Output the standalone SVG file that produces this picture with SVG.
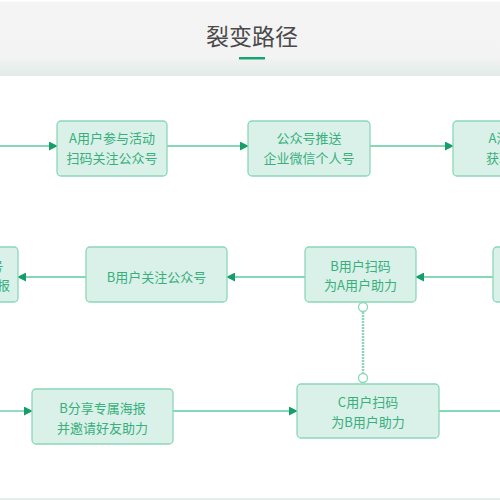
<svg xmlns="http://www.w3.org/2000/svg" width="500" height="500" viewBox="0 0 500 500">
<defs>
<linearGradient id="hdr" x1="0" y1="0" x2="0" y2="1">
<stop offset="0" stop-color="#f4f4f4"/>
<stop offset="0.75" stop-color="#f3f3f3"/>
<stop offset="1" stop-color="#e1ebe7"/>
</linearGradient>
<marker id="arr" viewBox="0 0 10 10" refX="9" refY="5" markerWidth="9" markerHeight="9" markerUnits="userSpaceOnUse" orient="auto">
<path d="M0,0 L10,5 L0,10 z" fill="#169e6a"/>
</marker>
<style>
.box{fill:#d9f1e8;stroke:#8cd7b9;stroke-width:1.3}
.t{font-family:"Noto Sans CJK SC","Liberation Sans",sans-serif;font-size:13px;fill:#3aaf7e;text-anchor:middle}
.ln{stroke:#5ec9a0;stroke-width:1.3;fill:none}
.title{font-family:"Noto Sans CJK SC","Liberation Sans",sans-serif;font-size:23px;fill:#4a4a4a;text-anchor:middle}
</style>
</defs>
<rect x="0" y="0" width="500" height="500" fill="#ffffff"/>
<rect x="0" y="0" width="500" height="76" fill="url(#hdr)"/>
<rect x="0" y="0" width="500" height="1.5" fill="#ffffff"/>
<text class="title" x="252" y="45">裂变路径</text>
<rect x="239" y="57" width="26" height="2.5" fill="#16a56f"/>
<rect x="0" y="498" width="500" height="2" fill="#e4eeea"/>

<g id="connectors">
<line class="ln" x1="0" y1="146" x2="57" y2="146" marker-end="url(#arr)"/>
<line class="ln" x1="167" y1="146" x2="248" y2="146" marker-end="url(#arr)"/>
<line class="ln" x1="370" y1="146" x2="453" y2="146" marker-end="url(#arr)"/>
<line class="ln" x1="493" y1="277" x2="416" y2="277" marker-end="url(#arr)"/>
<line class="ln" x1="305" y1="277" x2="227" y2="277" marker-end="url(#arr)"/>
<line class="ln" x1="86" y1="277" x2="18" y2="277" marker-end="url(#arr)"/>
<line class="ln" x1="0" y1="411" x2="32" y2="411" marker-end="url(#arr)"/>
<line class="ln" x1="173" y1="411" x2="297" y2="411" marker-end="url(#arr)"/>
<line class="ln" x1="439" y1="411" x2="500" y2="411"/>
<line x1="363" y1="312" x2="363" y2="373" stroke="#8cd7b9" stroke-width="2.5" stroke-dasharray="2,1"/>
<circle cx="363" cy="307" r="4.5" fill="#ffffff" stroke="#8cd7b9" stroke-width="1.3"/>
<circle cx="363" cy="378" r="4.5" fill="#ffffff" stroke="#8cd7b9" stroke-width="1.3"/>
</g>

<g id="n1">
<rect class="box" x="57" y="121" width="110" height="55" rx="4"/>
<text class="t" x="112" y="143">A用户参与活动</text>
<text class="t" x="112" y="163">扫码关注公众号</text>
</g>
<g id="n2">
<rect class="box" x="248" y="121" width="122" height="55" rx="4"/>
<text class="t" x="309" y="143">公众号推送</text>
<text class="t" x="309" y="163">企业微信个人号</text>
</g>
<g id="n3">
<rect class="box" x="453" y="121" width="143" height="55" rx="4"/>
<text class="t" x="525" y="143">A添加企微号</text>
<text class="t" x="525" y="163">获取专属海报</text>
</g>
<g id="n4">
<rect class="box" x="493" y="247" width="110" height="55" rx="4"/>
</g>
<g id="n5">
<rect class="box" x="305" y="247" width="111" height="55" rx="4"/>
<text class="t" x="360.5" y="271">B用户扫码</text>
<text class="t" x="360.5" y="290">为A用户助力</text>
</g>
<g id="n6">
<rect class="box" x="86" y="247" width="141" height="55" rx="4"/>
<text class="t" x="156.5" y="282">B用户关注公众号</text>
</g>
<g id="n7">
<rect class="box" x="-76" y="247" width="94" height="55" rx="4"/>
<text class="t" x="-29" y="271">添加个人号</text>
<text class="t" x="-29" y="290">获取专属海报</text>
</g>
<g id="n8">
<rect class="box" x="32" y="389" width="141" height="55" rx="4"/>
<text class="t" x="102.5" y="413">B分享专属海报</text>
<text class="t" x="102.5" y="433">并邀请好友助力</text>
</g>
<g id="n9">
<rect class="box" x="297" y="384" width="142" height="54" rx="4"/>
<text class="t" x="368" y="407">C用户扫码</text>
<text class="t" x="368" y="427">为B用户助力</text>
</g>
</svg>
